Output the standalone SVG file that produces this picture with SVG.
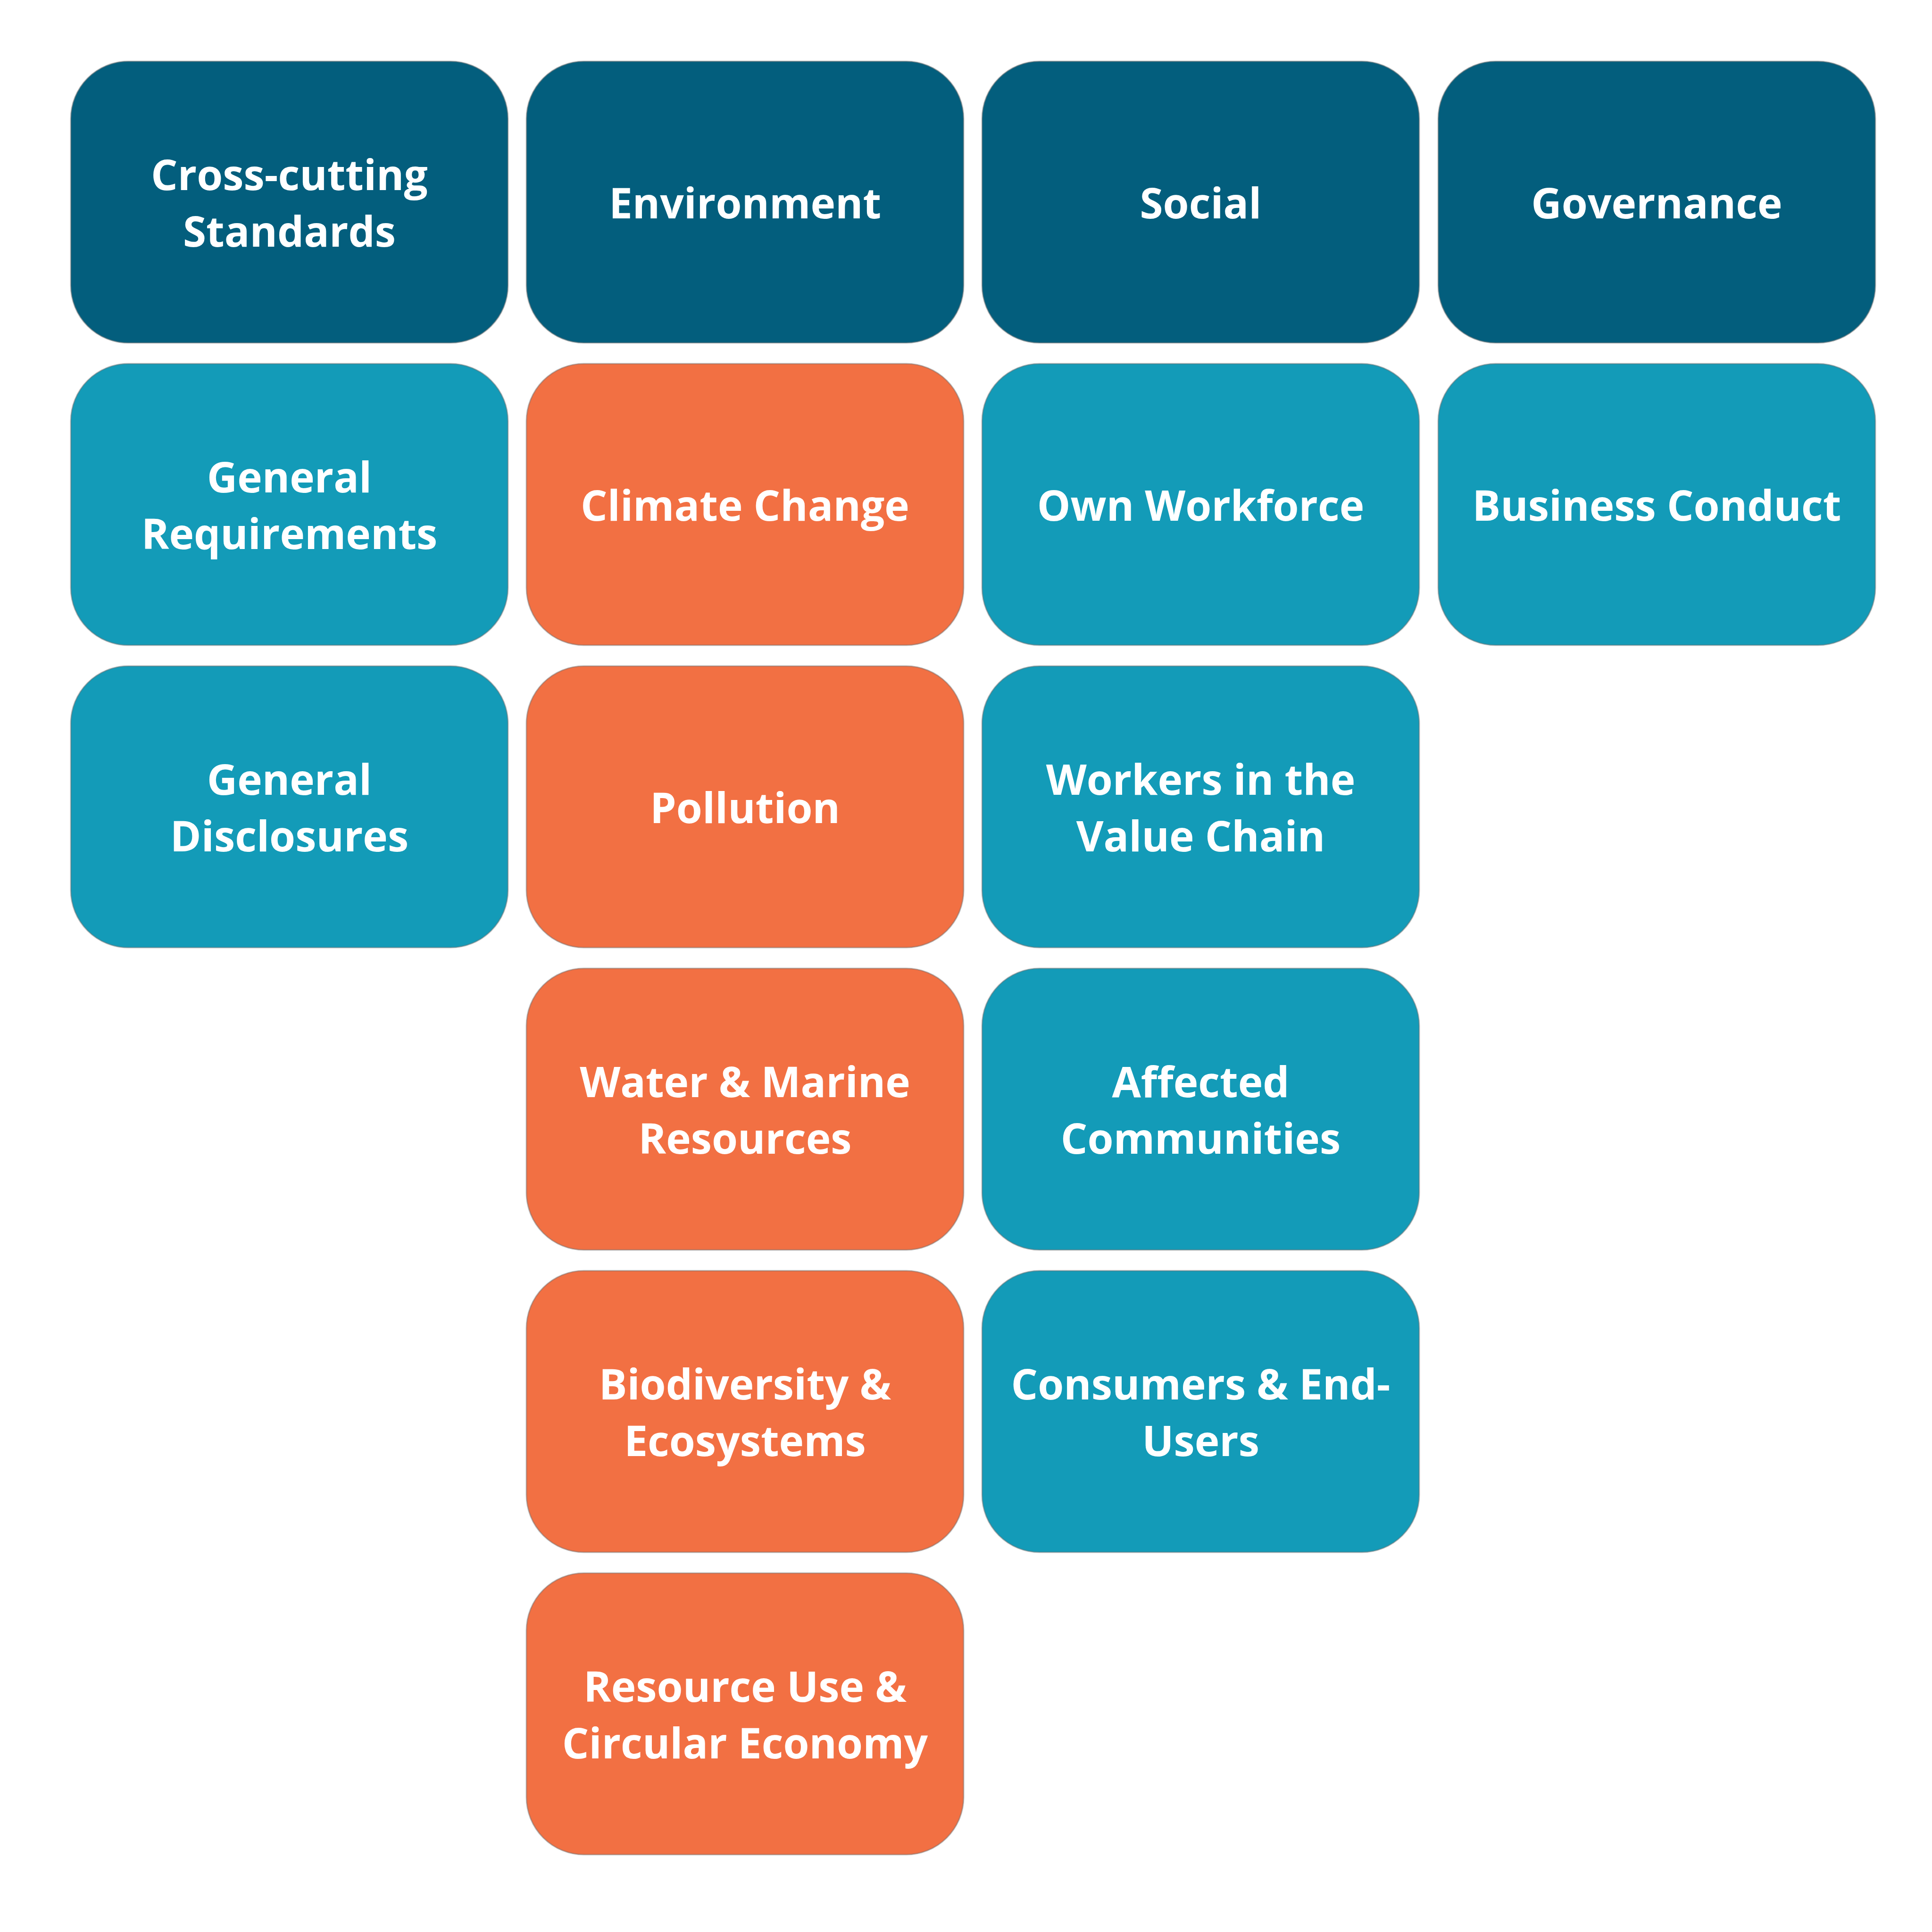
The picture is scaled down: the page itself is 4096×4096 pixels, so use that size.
<svg xmlns="http://www.w3.org/2000/svg" width="4096" height="4096" viewBox="0 0 4096 4096">
<style>
.box{stroke:#6f6f6f;stroke-opacity:0.45;stroke-width:3}
.dark{fill:#035E7D}
.light{fill:#139BB8}
.orange{fill:#F27043}
text{font-family:"Open Sans","Noto Sans","DejaVu Sans",sans-serif;font-weight:700;font-size:89px;fill:#ffffff;text-anchor:middle;dominant-baseline:central}
</style>
<rect width="4096" height="4096" fill="#ffffff"/>
<g id="connectors"/>
<g id="n-crosscutting"><rect class="box dark" x="150" y="130" width="927" height="597" rx="122"/><text x="613.5" y="368.5">Cross-cutting</text><text x="613.5" y="488.5">Standards</text></g>
<g id="n-environment"><rect class="box dark" x="1116" y="130" width="927" height="597" rx="122"/><text x="1579.5" y="428.5">Environment</text></g>
<g id="n-social"><rect class="box dark" x="2082" y="130" width="927" height="597" rx="122"/><text x="2545.5" y="428.5">Social</text></g>
<g id="n-governance"><rect class="box dark" x="3049" y="130" width="927" height="597" rx="122"/><text x="3512.5" y="428.5">Governance</text></g>

<g id="n-genreq"><rect class="box light" x="150" y="771" width="927" height="597" rx="122"/><text x="613.5" y="1009.5">General</text><text x="613.5" y="1129.5">Requirements</text></g>
<g id="n-climate"><rect class="box orange" x="1116" y="771" width="927" height="597" rx="122"/><text x="1579.5" y="1069.5">Climate Change</text></g>
<g id="n-workforce"><rect class="box light" x="2082" y="771" width="927" height="597" rx="122"/><text x="2545.5" y="1069.5">Own Workforce</text></g>
<g id="n-business"><rect class="box light" x="3049" y="771" width="927" height="597" rx="122"/><text x="3512.5" y="1069.5">Business Conduct</text></g>

<g id="n-gendisc"><rect class="box light" x="150" y="1412" width="927" height="597" rx="122"/><text x="613.5" y="1650.5">General</text><text x="613.5" y="1770.5">Disclosures</text></g>
<g id="n-pollution"><rect class="box orange" x="1116" y="1412" width="927" height="597" rx="122"/><text x="1579.5" y="1710.5">Pollution</text></g>
<g id="n-workers"><rect class="box light" x="2082" y="1412" width="927" height="597" rx="122"/><text x="2545.5" y="1650.5">Workers in the</text><text x="2545.5" y="1770.5">Value Chain</text></g>

<g id="n-water"><rect class="box orange" x="1116" y="2053" width="927" height="597" rx="122"/><text x="1579.5" y="2291.5">Water &amp; Marine</text><text x="1579.5" y="2411.5">Resources</text></g>
<g id="n-affected"><rect class="box light" x="2082" y="2053" width="927" height="597" rx="122"/><text x="2545.5" y="2291.5">Affected</text><text x="2545.5" y="2411.5">Communities</text></g>

<g id="n-biodiversity"><rect class="box orange" x="1116" y="2694" width="927" height="597" rx="122"/><text x="1579.5" y="2932.5">Biodiversity &amp;</text><text x="1579.5" y="3052.5">Ecosystems</text></g>
<g id="n-consumers"><rect class="box light" x="2082" y="2694" width="927" height="597" rx="122"/><text x="2545.5" y="2932.5">Consumers &amp; End-</text><text x="2545.5" y="3052.5">Users</text></g>

<g id="n-resource"><rect class="box orange" x="1116" y="3335" width="927" height="597" rx="122"/><text x="1579.5" y="3573.5">Resource Use &amp;</text><text x="1579.5" y="3693.5">Circular Economy</text></g>
</svg>
